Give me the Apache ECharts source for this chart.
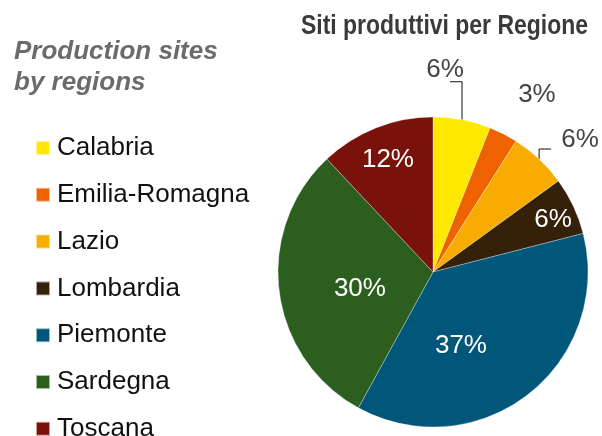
<!DOCTYPE html>
<html>
<head>
<meta charset="utf-8">
<script src="https://cdn.jsdelivr.net/npm/echarts@6/dist/echarts.min.js"></script>
<style>
html,body{margin:0;padding:0;background:#fff;}
#chart{width:602px;height:436px;}
</style>
</head>
<body>
<div id="chart"></div>
<script>
// ---- data ----
var categories = ['Calabria', 'Emilia-Romagna', 'Lazio', 'Lombardia', 'Piemonte', 'Sardegna', 'Toscana'];
var shares = [6, 3, 6, 6, 37, 30, 12];   // percent of production sites
var titleText = 'Siti produttivi per Regione';
var sideText = 'Production sites\nby regions';

// ---- styling ----
var colors = ['#FFE900', '#EE6200', '#F8AB00', '#35200A', '#00577A', '#2B5E1F', '#79120A'];
var labelInside = [false, false, false, true, true, true, true];
// label placement in polar terms: [angle from 12 o'clock (deg, clockwise), fraction of radius]
var labelPolar = [[3.4, 1.306], [30.4, 1.325], [48.1, 1.275], [66.6, 0.844], [159.3, 0.51], [256.9, 0.484], [338.1, 0.779]];
// leader lines: rise (px up from slice edge), run (px horizontal)
var leaders = {0: {rise: 38, run: -12}, 2: {rise: 10, run: 12}};

var CX = 433, CY = 272, R = 155;
var total = shares.reduce(function (a, b) { return a + b; }, 0);
var midAngles = [];
(function () {
  var acc = 0;
  shares.forEach(function (v) { midAngles.push((acc + v / 2) / total * 360); acc += v; });
})();
function polar(angleDeg, dist) {
  var a = angleDeg * Math.PI / 180;
  return [CX + dist * Math.sin(a), CY - dist * Math.cos(a)];
}

var font = '"Liberation Sans", Arial, Helvetica, sans-serif';

var chart = echarts.init(document.getElementById('chart'), null, {renderer: 'canvas'});
chart.setOption({
  animation: false,
  backgroundColor: '#ffffff',
  color: colors,
  graphic: [{
    type: 'text',
    x: 301,
    y: 26,
    scaleX: 0.82,
    style: {
      text: titleText,
      x: 0, y: 0,
      align: 'left',
      verticalAlign: 'middle',
      font: 'bold 28px "Liberation Sans", Arial, sans-serif',
      fill: '#3a3a3a'
    }
  }],
  title: [{
    text: sideText,
    left: 14,
    top: 36,
    padding: 0,
    textStyle: {fontFamily: font, fontStyle: 'italic', fontWeight: 'bold', fontSize: 26, lineHeight: 31, color: '#6b6b6b'}
  }],
  legend: {
    orient: 'vertical',
    left: 35,
    top: 135,
    height: 330,
    padding: 0,
    icon: 'rect',
    itemWidth: 14,
    itemHeight: 14,
    itemGap: 20.8,
    data: categories,
    textStyle: {fontFamily: font, fontSize: 26, lineHeight: 25, color: '#111', padding: [0, 0, 0, 2]}
  },
  series: [{
    type: 'pie',
    center: [CX, CY],
    radius: R,
    startAngle: 90,
    clockwise: true,
    avoidLabelOverlap: false,
    itemStyle: {borderColor: 'rgba(255,255,255,0.6)', borderWidth: 0.5},
    emphasis: {disabled: true},
    data: categories.map(function (name, i) {
      return {
        name: name,
        value: shares[i],
        label: {
          show: true,
          position: labelInside[i] ? 'inside' : 'outside',
          formatter: '{c}%',
          fontFamily: font,
          fontSize: 26,
          color: labelInside[i] ? '#ffffff' : '#444444'
        },
        labelLine: {show: !!leaders[i], lineStyle: {color: '#111', width: 1}}
      };
    }),
    labelLayout: function (params) {
      var i = params.dataIndex;
      var p = polar(labelPolar[i][0], labelPolar[i][1] * R);
      var res = {x: p[0], y: p[1], align: 'center', verticalAlign: 'middle'};
      if (leaders[i]) {
        var p0 = polar(midAngles[i], R);
        var p1 = [p0[0], p0[1] - leaders[i].rise];
        var p2 = [p1[0] + leaders[i].run, p1[1]];
        res.labelLinePoints = [p0, p1, p2];
      }
      return res;
    }
  }]
});
</script>
</body>
</html>
